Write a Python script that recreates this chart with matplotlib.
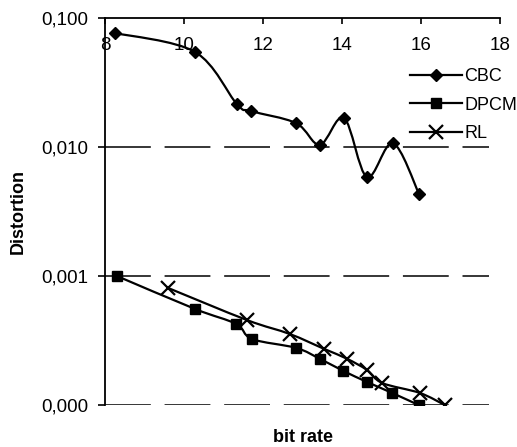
import numpy as np
import matplotlib
matplotlib.use("Agg")
import matplotlib.pyplot as plt
from matplotlib.path import Path
from matplotlib.patches import PathPatch
from matplotlib.lines import Line2D
from matplotlib.ticker import FuncFormatter, FixedLocator

plt.rcParams['font.family'] = ['Liberation Sans', 'DejaVu Sans']

# ---- data ----
cbc_x = [8.25, 10.28, 11.34, 11.70, 12.84, 13.44, 14.05, 14.63, 15.29, 15.95]
cbc_y = [0.0765, 0.0545, 0.0215, 0.0190, 0.0153, 0.0104, 0.0168, 0.00585, 0.0107, 0.00433]

dpcm_x = [8.30, 10.28, 11.32, 11.72, 12.84, 13.44, 14.03, 14.63, 15.27, 15.94]
dpcm_y = [0.00100, 0.000555, 0.000425, 0.000325, 0.000277, 0.000228, 0.000184, 0.000151, 0.000124, 0.000100]

rl_x = [9.60, 11.59, 12.68, 13.55, 14.13, 14.63, 15.02, 15.97, 16.60]
rl_y = [0.000807, 0.000456, 0.000355, 0.000272, 0.000228, 0.000187, 0.000148, 0.000124, 0.000100]

x_ticks = [8, 10, 12, 14, 16, 18]
y_ticks = [0.1, 0.01, 0.001, 0.0001]
grid_levels = [0.01, 0.001, 0.0001]

W, H = 517, 447
fig = plt.figure(figsize=(W / 100, H / 100), dpi=100)
ax = fig.add_axes([105 / W, 1 - 405 / H, (500 - 105) / W, (405 - 18) / H])
ax.set_yscale('log')
ax.set_xlim(8, 18)
ax.set_ylim(1e-4, 0.1)


def smooth_path(xs, ys):
    pts = np.column_stack([np.asarray(xs, float), np.log10(ys)])
    n = len(pts)
    verts = [pts[0]]
    codes = [Path.MOVETO]
    for i in range(n - 1):
        p0 = pts[i - 1] if i > 0 else pts[i]
        p1 = pts[i]
        p2 = pts[i + 1]
        p3 = pts[i + 2] if i + 2 < n else pts[i + 1]
        c1 = p1 + (p2 - p0) / 6.0
        c2 = p2 - (p3 - p1) / 6.0
        verts += [c1, c2, p2]
        codes += [Path.CURVE4] * 3
    verts = np.array(verts)
    verts[:, 1] = 10 ** verts[:, 1]
    return Path(verts, codes)


# gridlines (dashed)
for g in grid_levels:
    ax.axhline(g, xmin=0, xmax=(489 - 105) / 395, color='black', lw=1.1,
               linestyle=(0, (30, 9)), zorder=1)

series = [
    (cbc_x, cbc_y, 'D', 6.0, 'CBC'),
    (dpcm_x, dpcm_y, 's', 6.5, 'DPCM'),
    (rl_x, rl_y, 'x', 9.5, 'RL'),
]
handles = []
for xs, ys, m, ms, lab in series:
    ax.add_patch(PathPatch(smooth_path(xs, ys), fill=False, edgecolor='black',
                           lw=1.6, zorder=3))
    ax.plot(xs, ys, linestyle='none', marker=m, ms=ms, color='black',
            mec='black', mew=1.6 if m == 'x' else 1.0, zorder=4)
    handles.append(Line2D([], [], color='black', lw=1.6, marker=m, ms=ms,
                          mew=1.6 if m == 'x' else 1.0, label=lab))

# spines
for s in ['right', 'bottom']:
    ax.spines[s].set_visible(False)
ax.spines['left'].set_linewidth(1.3)
ax.spines['top'].set_linewidth(1.3)

# x axis on top, ticks inside, labels below the spine
ax.xaxis.tick_top()
ax.xaxis.set_major_locator(FixedLocator(x_ticks))
ax.xaxis.set_minor_locator(FixedLocator([]))
ax.tick_params(axis='x', which='major', direction='in', length=4, width=1.2,
               pad=-26, labelsize=13.5)

# y axis
ax.yaxis.set_major_locator(FixedLocator(y_ticks))
ax.yaxis.set_minor_locator(FixedLocator([]))
ax.yaxis.set_major_formatter(FuncFormatter(lambda v, p: f"{v:.3f}".replace('.', ',')))
ax.tick_params(axis='y', which='major', direction='out', length=5, width=1.2,
               pad=7, labelsize=13.5)

ax.set_ylabel('Distortion', fontsize=13, fontweight='bold')
ax.yaxis.set_label_coords(-(105 - 27) / 395, 0.5)
fig.text(303 / W, 1 - 437 / H, 'bit rate', ha='center', va='center',
         fontsize=13, fontweight='bold')

fig.legend(handles=handles, loc='upper left', bbox_to_anchor=(410 / W, 1 - 68 / H),
           frameon=False, borderpad=0, borderaxespad=0, handlelength=2.9,
           handletextpad=0.1, labelspacing=0.65, fontsize=13)

fig.savefig('out.png', dpi=100)
